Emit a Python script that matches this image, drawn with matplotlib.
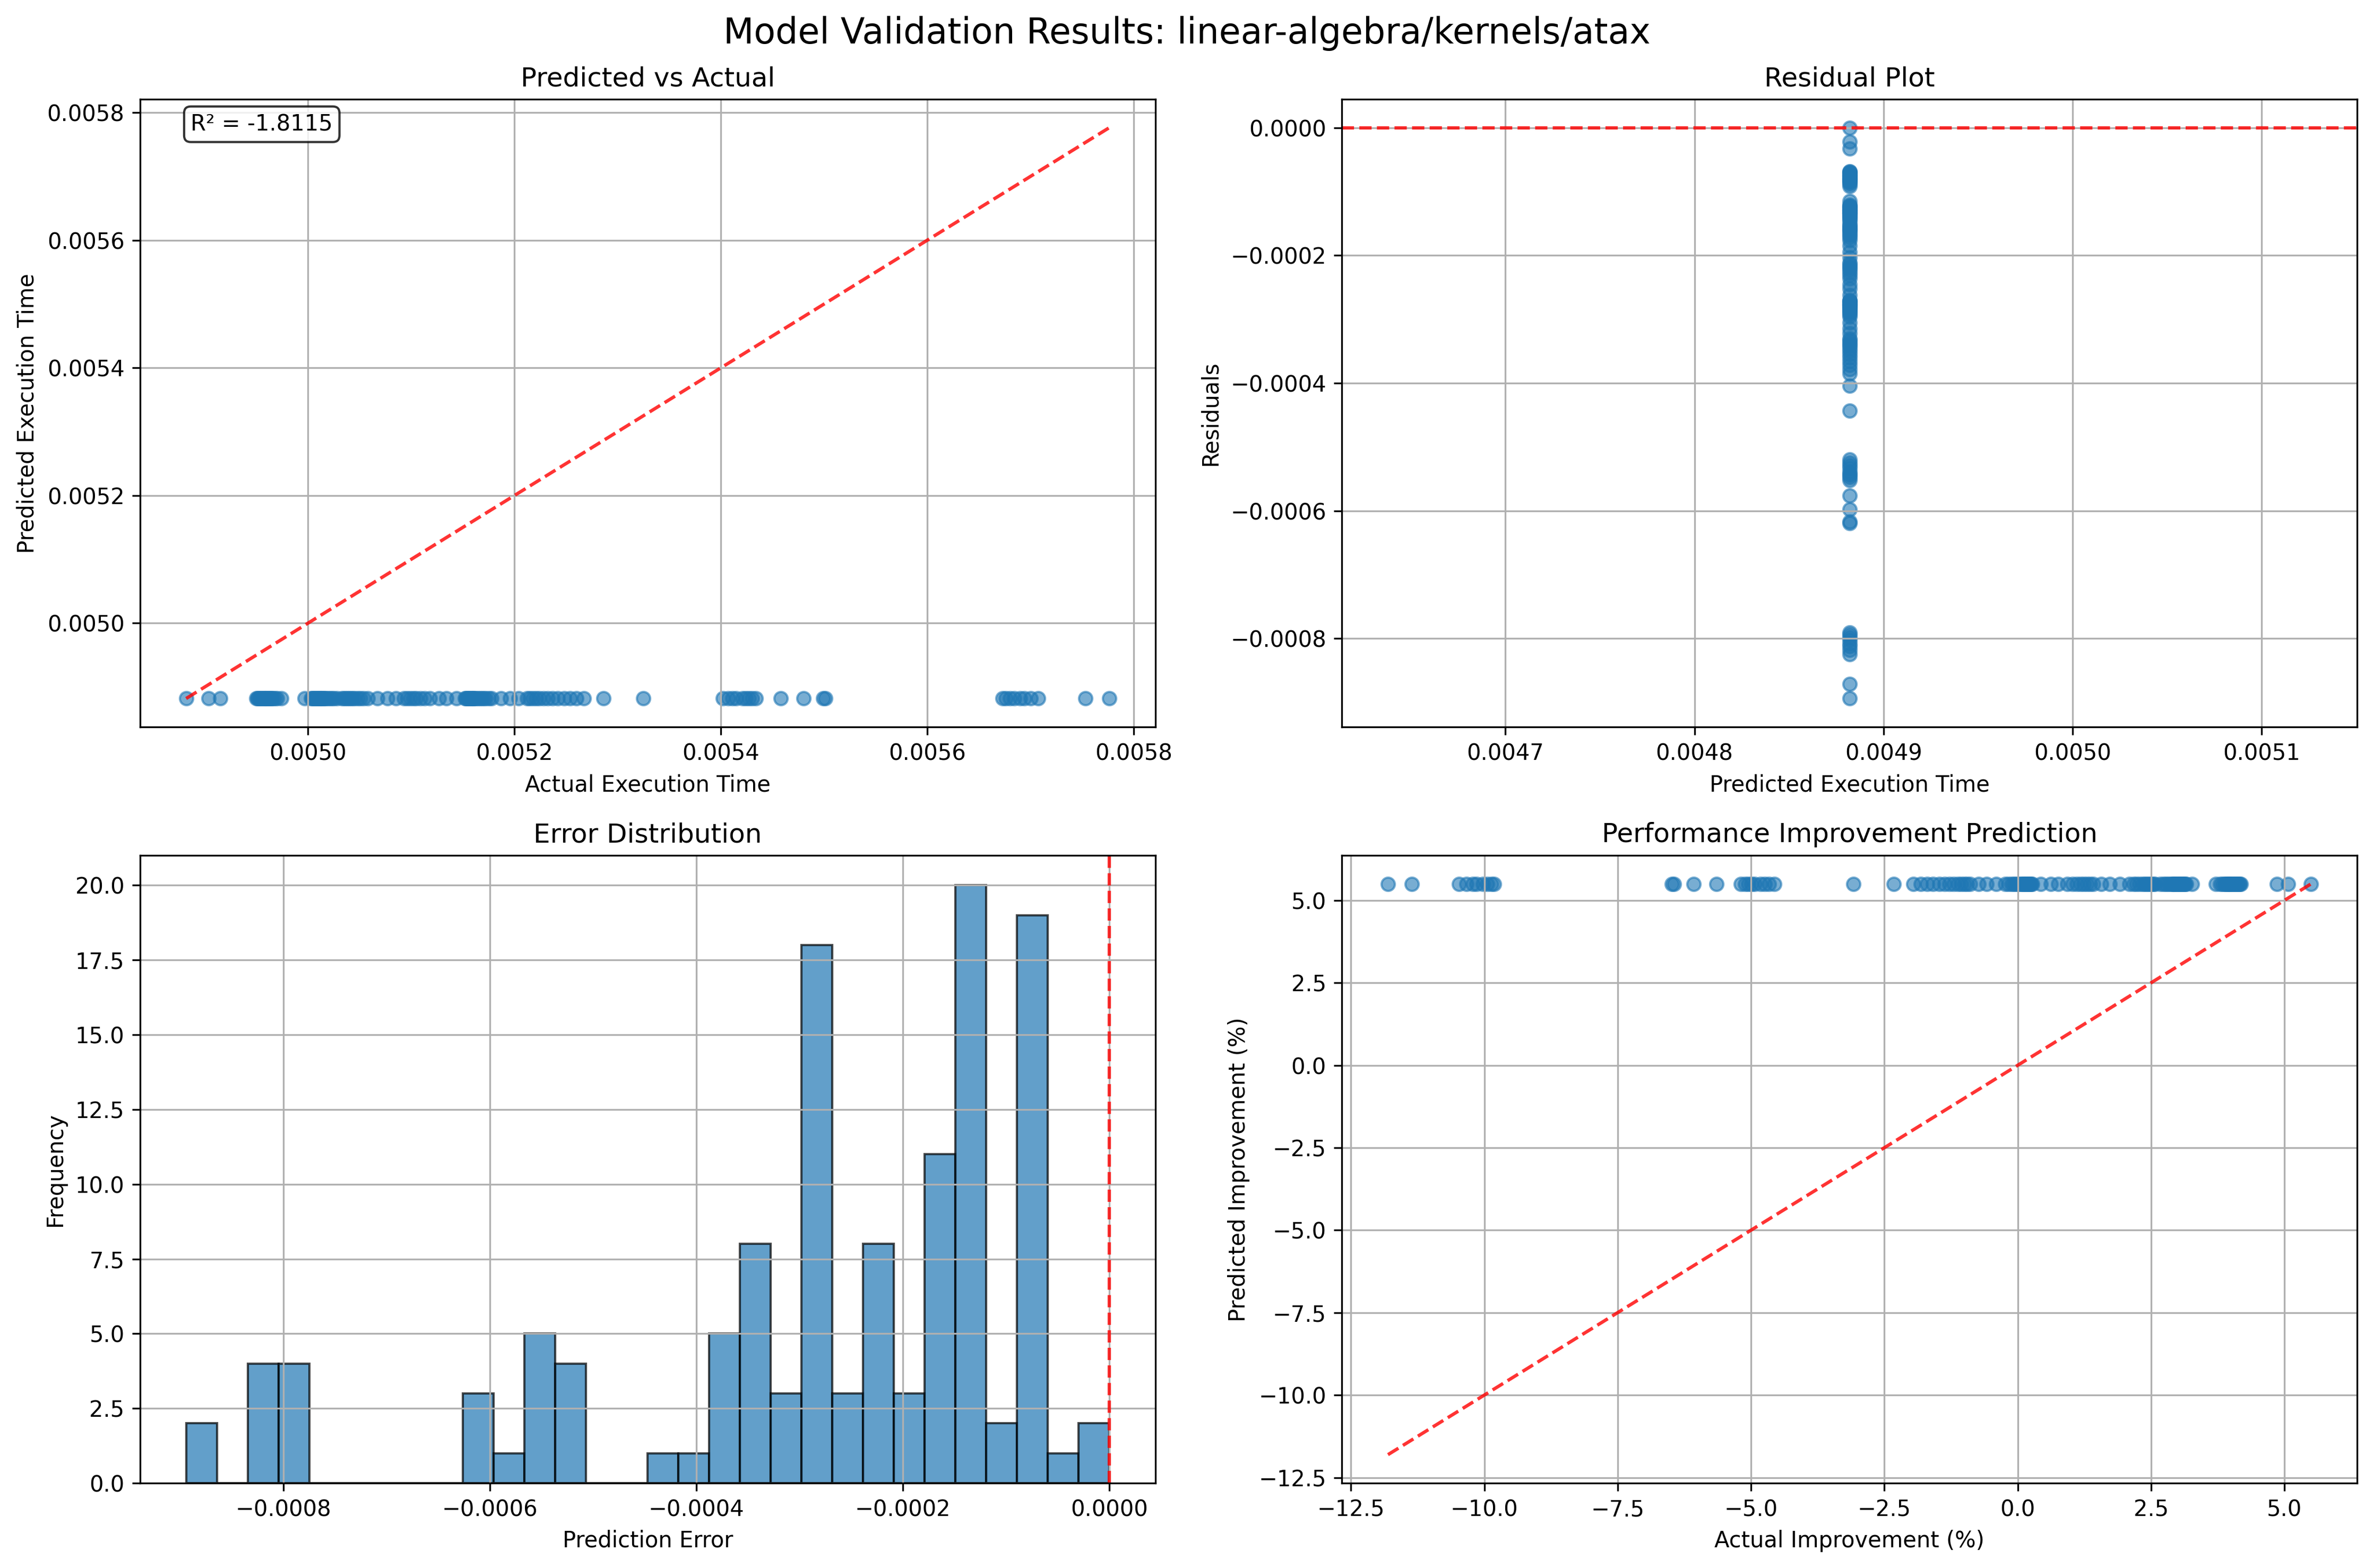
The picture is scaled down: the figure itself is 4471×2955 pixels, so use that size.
import numpy as np
import matplotlib
matplotlib.use("Agg")
import matplotlib.pyplot as plt

# model prediction is a single constant value for every run
predicted_time = 0.004882
baseline_time = 0.0051661
r2_label = "R² = -1.8115"

actual_time = [
    0.004882, 0.004904, 0.004915,
    0.004950, 0.004951, 0.004952, 0.004953, 0.004954, 0.004955, 0.004956,
    0.004957, 0.004958, 0.004959, 0.004960, 0.004961, 0.004962, 0.004963,
    0.004964, 0.004965, 0.004966, 0.004968, 0.004970,
    0.004974, 0.004997,
    0.005003, 0.005004, 0.005005, 0.005006, 0.005007, 0.005008, 0.005009,
    0.005010, 0.005011, 0.005012, 0.005013, 0.005014, 0.005015, 0.005016,
    0.005017, 0.005019, 0.005021, 0.005023, 0.005025, 0.005028,
    0.005033, 0.005035, 0.005037, 0.005039, 0.005041, 0.005043, 0.005045,
    0.005048, 0.005051, 0.005054, 0.005058,
    0.005067, 0.005077, 0.005085,
    0.005093, 0.005096, 0.005099, 0.005102, 0.005105, 0.005109, 0.005113, 0.005118,
    0.005127, 0.005134, 0.005144,
    0.005152, 0.005153, 0.005154, 0.005155, 0.005156, 0.005157, 0.005158,
    0.005159, 0.005160, 0.005161, 0.005162, 0.005164, 0.005166, 0.005168,
    0.005170, 0.005172, 0.005175, 0.005178,
    0.005187, 0.005196, 0.005204,
    0.005212, 0.005215, 0.005218, 0.005221, 0.005224, 0.005228, 0.005232, 0.005237,
    0.005242, 0.005248, 0.005254, 0.005260, 0.005267,
    0.005286, 0.005325,
    0.005402, 0.005407, 0.005411, 0.005415,
    0.005421, 0.005424, 0.005427, 0.005430, 0.005434,
    0.005458,
    0.005480, 0.005499, 0.005501,
    0.005673, 0.005676, 0.005680, 0.005684,
    0.005690, 0.005694, 0.005700, 0.005707,
    0.005753, 0.005776,
]

y_true = np.array(actual_time)
y_pred = np.full_like(y_true, predicted_time)
residuals = y_pred - y_true
act_impr = (baseline_time - y_true) / baseline_time * 100
pred_impr = (baseline_time - y_pred) / baseline_time * 100

fig, axes = plt.subplots(2, 2, figsize=(15, 10))
fig.suptitle("Model Validation Results: linear-algebra/kernels/atax", fontsize=16)

# predicted vs actual
ax = axes[0, 0]
ax.scatter(y_true, y_pred, alpha=0.6)
lo, hi = y_true.min(), y_true.max()
ax.plot([lo, hi], [lo, hi], "r--", alpha=0.8)
ax.set_xlabel("Actual Execution Time")
ax.set_ylabel("Predicted Execution Time")
ax.set_title("Predicted vs Actual")
ax.text(0.05, 0.95, r2_label, transform=ax.transAxes,
        bbox=dict(boxstyle="round", facecolor="white", alpha=0.8))
ax.grid(True)

# residuals
ax = axes[0, 1]
ax.scatter(y_pred, residuals, alpha=0.6)
ax.axhline(y=0, color="r", linestyle="--", alpha=0.8)
ax.set_xlabel("Predicted Execution Time")
ax.set_ylabel("Residuals")
ax.set_title("Residual Plot")
ax.grid(True)

# error histogram
ax = axes[1, 0]
ax.hist(residuals, bins=30, alpha=0.7, edgecolor="black")
ax.axvline(x=0, color="r", linestyle="--", alpha=0.8)
ax.set_xlabel("Prediction Error")
ax.set_ylabel("Frequency")
ax.set_title("Error Distribution")
ax.grid(True)

# improvement
ax = axes[1, 1]
ax.scatter(act_impr, pred_impr, alpha=0.6)
lo, hi = act_impr.min(), act_impr.max()
ax.plot([lo, hi], [lo, hi], "r--", alpha=0.8)
ax.set_xlabel("Actual Improvement (%)")
ax.set_ylabel("Predicted Improvement (%)")
ax.set_title("Performance Improvement Prediction")
ax.grid(True)

plt.tight_layout()
plt.savefig("out.png", dpi=300, bbox_inches="tight")
